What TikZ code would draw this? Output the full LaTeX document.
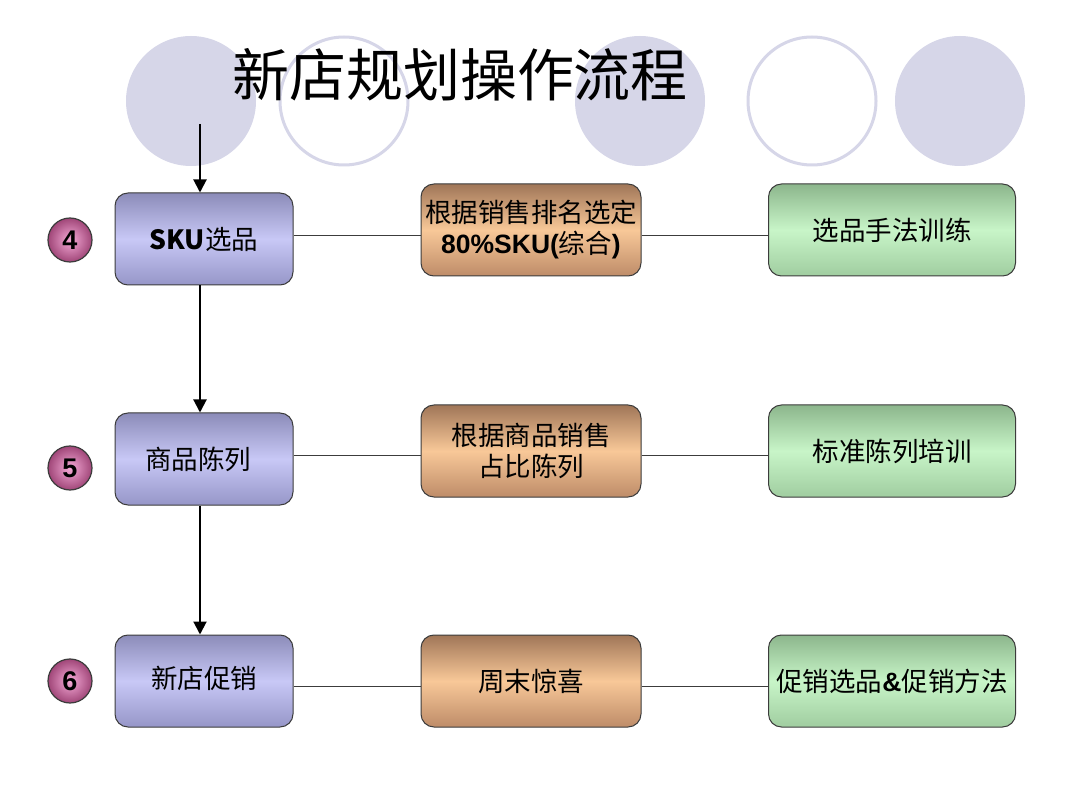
\documentclass[tikz,border=0pt]{standalone}
\usepackage{fontspec}
\setmainfont{Liberation Sans}
\newfontfamily\cjk{Noto Sans CJK SC}
\usetikzlibrary{arrows.meta}
\definecolor{lav}{RGB}{214,214,232}
\definecolor{bluetop}{RGB}{140,140,185}
\definecolor{bluemid}{RGB}{200,200,246}
\definecolor{bluebot}{RGB}{150,150,200}
\definecolor{browntop}{RGB}{160,118,88}
\definecolor{brownmid}{RGB}{248,200,152}
\definecolor{brownbot}{RGB}{190,140,105}
\definecolor{greentop}{RGB}{140,182,140}
\definecolor{greenmid}{RGB}{200,245,200}
\definecolor{greenbot}{RGB}{160,205,160}
\definecolor{pinkin}{RGB}{245,170,215}
\definecolor{pinkout}{RGB}{160,70,120}
\definecolor{edge}{RGB}{60,60,60}
\tikzset{
  bx/.style={draw=edge, line width=1pt, rounded corners=13pt, inner sep=1pt, align=center,
    font=\fontsize{26.5}{31}\selectfont\cjk},
  lbox/.style={bx, minimum width=178pt, minimum height=92pt,
    top color=bluetop, bottom color=bluebot, middle color=bluemid},
  mbox/.style={bx, minimum width=220pt, minimum height=92pt,
    top color=browntop, bottom color=brownbot, middle color=brownmid},
  rbox/.style={bx, minimum width=247pt, minimum height=92pt,
    top color=greentop, bottom color=greenbot, middle color=greenmid},
  num/.style={circle, draw=edge, line width=1.2pt, minimum size=44pt, inner sep=0pt,
    inner color=pinkin, outer color=pinkout, font=\fontsize{27}{27}\selectfont\bfseries},
  conn/.style={draw=edge, line width=1pt},
  arr/.style={draw=black, line width=2pt, -{Triangle[width=13pt,length=13pt]}},
  deco/.style={fill=lav},
  decoring/.style={draw=lav, line width=3pt, fill=white},
}
\begin{document}
\begin{tikzpicture}[x=1pt,y=-1pt]
\useasboundingbox (0,0) rectangle (1080,810);
\fill[white] (0,0) rectangle (1080,810);
% decorative circles
\fill[deco] (191,101) circle (65);
\draw[decoring] (344,101) circle (64);
\fill[deco] (640,101) circle (65);
\draw[decoring] (812,101) circle (64);
\fill[deco] (960,101) circle (65);
% title
\node (title) at (460,75) {\fontsize{57}{60}\selectfont\cjk 新店规划操作流程};
% left column
\node[lbox] (s4) at (204,239) {{\bfseries SKU}{\cjk 选品}};
\node[lbox] (s5) at (204,459) {\hspace*{-12pt}商品陈列};
\node[lbox] (s6) at (204,681) {\raisebox{8pt}{新店促销}};
% middle column
\node[mbox] (m4) at (531,230) {根据销售排名选定\\{\bfseries\rmfamily 80\%SKU(}综合{\bfseries\rmfamily )}};
\node[mbox] (m5) at (531,451) {根据商品销售\\占比陈列};
\node[mbox] (m6) at (531,681) {周末惊喜};
% right column
\node[rbox] (r4) at (892,230) {选品手法训练};
\node[rbox] (r5) at (892,451) {标准陈列培训};
\node[rbox] (r6) at (892,681) {促销选品{\bfseries\rmfamily\&}促销方法};
% number badges
\node[num] (n4) at (70,240) {4};
\node[num] (n5) at (70,468) {5};
\node[num] (n6) at (70,681) {6};
% arrows
\coordinate (top) at (200,124);
\draw[arr] (top) -- (top |- s4.north);
\draw[arr] (top |- s4.south) -- (top |- s5.north);
\draw[arr] (top |- s5.south) -- (top |- s6.north);
% horizontal connectors
\coordinate (h4) at (0,236);
\coordinate (h5) at (0,456);
\coordinate (h6) at (0,686);
\draw[conn] (s4.east |- h4) -- (m4.west |- h4);
\draw[conn] (m4.east |- h4) -- (r4.west |- h4);
\draw[conn] (s5.east |- h5) -- (m5.west |- h5);
\draw[conn] (m5.east |- h5) -- (r5.west |- h5);
\draw[conn] (s6.east |- h6) -- (m6.west |- h6);
\draw[conn] (m6.east |- h6) -- (r6.west |- h6);
\end{tikzpicture}
\end{document}
